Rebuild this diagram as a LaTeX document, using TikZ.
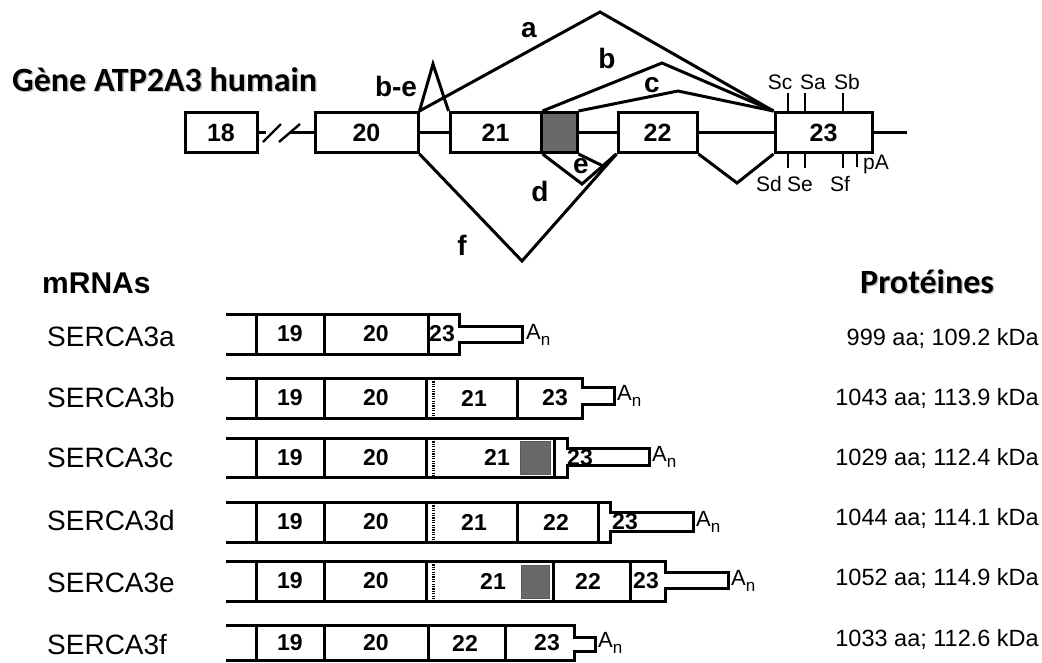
\documentclass[tikz,border=0pt]{standalone}
\usepackage{fontspec}
\setmainfont{Liberation Sans}
\newfontfamily\calib{Carlito}
\definecolor{exg}{RGB}{105,105,105}
\tikzset{
  ln/.style={line width=3pt},
  thin ln/.style={line width=2.4pt},
  tick/.style={line width=2.4pt},
  dotv/.style={line width=3pt, dash pattern=on 1.2pt off 1.2pt},
  exon/.style={draw, line width=3pt, inner sep=0pt, minimum height=40pt,
    font=\bfseries\fontsize{25}{25}\selectfont},
  lbl/.style={font=\bfseries\fontsize{28}{28}\selectfont, inner sep=0pt},
  site/.style={font=\fontsize{21}{21}\selectfont, inner sep=0pt},
  mnum/.style={font=\bfseries\fontsize{23}{23}\selectfont, inner sep=0pt},
  rname/.style={font=\fontsize{28}{28}\selectfont, anchor=base west, inner sep=0pt},
  prot/.style={font=\fontsize{23.5}{24}\selectfont, anchor=base east, inner sep=0pt},
  head/.style={font=\calib\bfseries\fontsize{34}{34}\selectfont, anchor=base west, inner sep=0pt},
  polya/.style={font=\fontsize{22}{22}\selectfont, anchor=west, inner sep=0pt},
}
\newcommand{\An}{A\raisebox{-6pt}{\fontsize{17}{17}\selectfont n}}
\begin{document}
\begin{tikzpicture}[x=1pt,y=-1pt,line join=miter,miter limit=20]
\useasboundingbox (0,0) rectangle (1042,662);

% ---------------- titles
\node[head,text=gray!45] (titlesh) at (13.5,92.5) {Gène ATP2A3 humain};
\node[head] (title) at (12,91) {Gène ATP2A3 humain};
\node[font=\bfseries\fontsize{30}{30}\selectfont, anchor=base west, inner sep=0pt] (mrnas) at (42,293) {mRNAs};
\node[head,text=gray!45] (protsh) at (861.5,294.5) {Protéines};
\node[head] (prot) at (860,293) {Protéines};

% ---------------- gene
\node[exon, minimum width=72pt] (e18) at (221,132.5) {18};
\node[exon, minimum width=103pt] (e20) at (366.5,132.5) {20};
\node[exon, minimum width=91pt] (e21) at (495.5,132.5) {21};
\node[exon, minimum width=36pt, fill=exg] (eg) at (559,132.5) {};
\node[exon, minimum width=79pt] (e22) at (657.5,132.5) {22};
\node[exon, minimum width=97pt] (e23) at (823.5,132.5) {23};
\coordinate (tail) at (907,132.5);

% introns
\draw[ln] (e18.east) -- (266,132.5);
\draw[ln] (290,132.5) -- (e20.west);
\draw[thin ln] (263,142) -- (281,124);
\draw[thin ln] (279,142) -- (300,124);
\draw[ln] (e20.east) -- (e21.west);
\draw[ln] (eg.east) -- (e22.west);
\draw[ln] (e22.east) -- (e23.west);
\draw[ln] (e23.east) -- (tail);

% splice connectors
\coordinate (pbe) at (433,64);
\coordinate (pa) at (600,12);
\coordinate (pb) at (662,63);
\coordinate (pc) at (678,91);
\coordinate (pf) at (522,261);
\coordinate (pd) at (582,184);
\coordinate (pe) at (603,166);
\coordinate (pv) at (737,183);
\draw[ln] (e20.north east) -- (pbe) -- (e21.north west);
\draw[ln] (e20.north east) -- (pa) -- (e23.north west);
\draw[ln] (e21.north east) -- (pb) -- (e23.north west);
\draw[ln] (eg.north east) -- (pc) -- (e23.north west);
\draw[ln] (e20.south east) -- (pf) -- (e22.south west);
\draw[ln] (e21.south east) -- (pd) -- (e22.south west);
\draw[ln] (eg.south east) -- (pe) -- (e22.south west);
\draw[ln] (e22.south east) -- (pv) -- (e23.south west);

% splice labels
\node[lbl] (la) at (529,30) {a};
\node[lbl] (lb) at (607,58) {b};
\node[lbl] (lc) at (652,85) {c};
\node[lbl] (lbe) at (396,86) {b-e};
\node[lbl] (ld) at (540,191) {d};
\node[lbl] (le) at (581,166) {e};
\node[lbl] (lf) at (462,245) {f};

% sites on exon 23
\draw[tick] (788,93) -- (788,112) (805,93) -- (805,112) (843,93) -- (843,112);
\draw[tick] (788,153) -- (788,168) (805,153) -- (805,168) (843,153) -- (843,168) (857,153) -- (857,167);
\node[site] (sc) at (780,82) {Sc};
\node[site] (sa) at (813,82) {Sa};
\node[site] (sb) at (847,82) {Sb};
\node[site] (sd) at (769,184) {Sd};
\node[site] (se) at (800,184) {Se};
\node[site] (sf) at (840,184) {Sf};
\node[site] (pA) at (876,164) {pA};

% ---------------- mRNA rows
% row a
\draw[ln] (226,314) -- (459,314) -- (459,326) -- (522,326) -- (522,342) -- (459,342) -- (459,354) -- (226,354);
\draw[ln] (256,314) -- (256,354) (324,314) -- (324,354) (428,314) -- (428,354);
\node[mnum] (a19) at (290,334) {19};
\node[mnum] (a20) at (376,334) {20};
\node[mnum] (a23) at (442,334) {23};
\node[polya] (aan) at (526,335) {\An};

% row b
\draw[ln] (226,378) -- (582,378) -- (582,387) -- (614,387) -- (614,404) -- (582,404) -- (582,418) -- (226,418);
\draw[ln] (256,378) -- (256,418) (324,378) -- (324,418) (426,378) -- (426,418) (517,378) -- (517,418);
\draw[dotv] (433,379) -- (433,417);
\node[mnum] (b19) at (290,398) {19};
\node[mnum] (b20) at (376,398) {20};
\node[mnum] (b21) at (474,398) {21};
\node[mnum] (b23) at (555,398) {23};
\node[polya] (ban) at (617,396) {\An};

% row c
\draw[ln] (226,438) -- (567,438) -- (567,448) -- (649,448) -- (649,465) -- (567,465) -- (567,477) -- (226,477);
\draw[ln] (256,438) -- (256,477) (324,438) -- (324,477) (426,438) -- (426,477) (554,438) -- (554,477);
\draw[dotv] (433,439) -- (433,476);
\draw[fill=exg, line width=1pt, draw=gray!70!black] (520,441) rectangle (550,474);
\node[mnum] (c19) at (290,457.5) {19};
\node[mnum] (c20) at (376,457.5) {20};
\node[mnum] (c21) at (497,457.5) {21};
\node[mnum] (c23) at (580,457.5) {23};
\node[polya] (can) at (652,457) {\An};

% row d
\draw[ln] (226,502) -- (610,502) -- (610,512) -- (693,512) -- (693,531) -- (610,531) -- (610,542) -- (226,542);
\draw[ln] (256,502) -- (256,542) (324,502) -- (324,542) (426,502) -- (426,542) (517,502) -- (517,542) (598,502) -- (598,542);
\draw[dotv] (433,503) -- (433,541);
\node[mnum] (d19) at (290,522) {19};
\node[mnum] (d20) at (376,522) {20};
\node[mnum] (d21) at (474,522) {21};
\node[mnum] (d22) at (556,522) {22};
\node[mnum] (d23) at (625,522) {23};
\node[polya] (dan) at (696,522) {\An};

% row e
\draw[ln] (226,561) -- (665,561) -- (665,572) -- (728,572) -- (728,588) -- (665,588) -- (665,601) -- (226,601);
\draw[ln] (256,561) -- (256,601) (324,561) -- (324,601) (426,561) -- (426,601) (553,561) -- (553,601) (630,561) -- (630,601);
\draw[dotv] (433,562) -- (433,600);
\draw[fill=exg, line width=1pt, draw=gray!70!black] (521,565) rectangle (549,598);
\node[mnum] (e19) at (290,581) {19};
\node[mnum] (e20) at (376,581) {20};
\node[mnum] (ex21) at (493,581) {21};
\node[mnum] (ex22) at (588,581) {22};
\node[mnum] (ex23) at (646,581) {23};
\node[polya] (ean) at (731,581) {\An};

% row f
\draw[ln] (226,625) -- (574,625) -- (574,637) -- (595,637) -- (595,651) -- (574,651) -- (574,660) -- (226,660);
\draw[ln] (256,625) -- (256,660) (324,625) -- (324,660) (428,625) -- (428,660) (505,625) -- (505,660);
\node[mnum] (f19) at (290,643) {19};
\node[mnum] (f20) at (376,643) {20};
\node[mnum] (f22) at (465,643) {22};
\node[mnum] (f23) at (547,643) {23};
\node[polya] (fan) at (598,643) {\An};

% ---------------- names
\node[rname] (na) at (47,346) {SERCA3a};
\node[rname] (nb) at (47,407) {SERCA3b};
\node[rname] (nc) at (47,467) {SERCA3c};
\node[rname] (nd) at (47,530) {SERCA3d};
\node[rname] (ne) at (47,592) {SERCA3e};
\node[rname] (nf) at (47,654) {SERCA3f};

% ---------------- proteins
\node[prot] (pra) at (1039,345) {999 aa; 109.2 kDa};
\node[prot] (prb) at (1039,405) {1043 aa; 113.9 kDa};
\node[prot] (prc) at (1039,465) {1029 aa; 112.4 kDa};
\node[prot] (prd) at (1039,525) {1044 aa; 114.1 kDa};
\node[prot] (pre) at (1039,585) {1052 aa; 114.9 kDa};
\node[prot] (prf) at (1039,646) {1033 aa; 112.6 kDa};
\end{tikzpicture}
\end{document}
